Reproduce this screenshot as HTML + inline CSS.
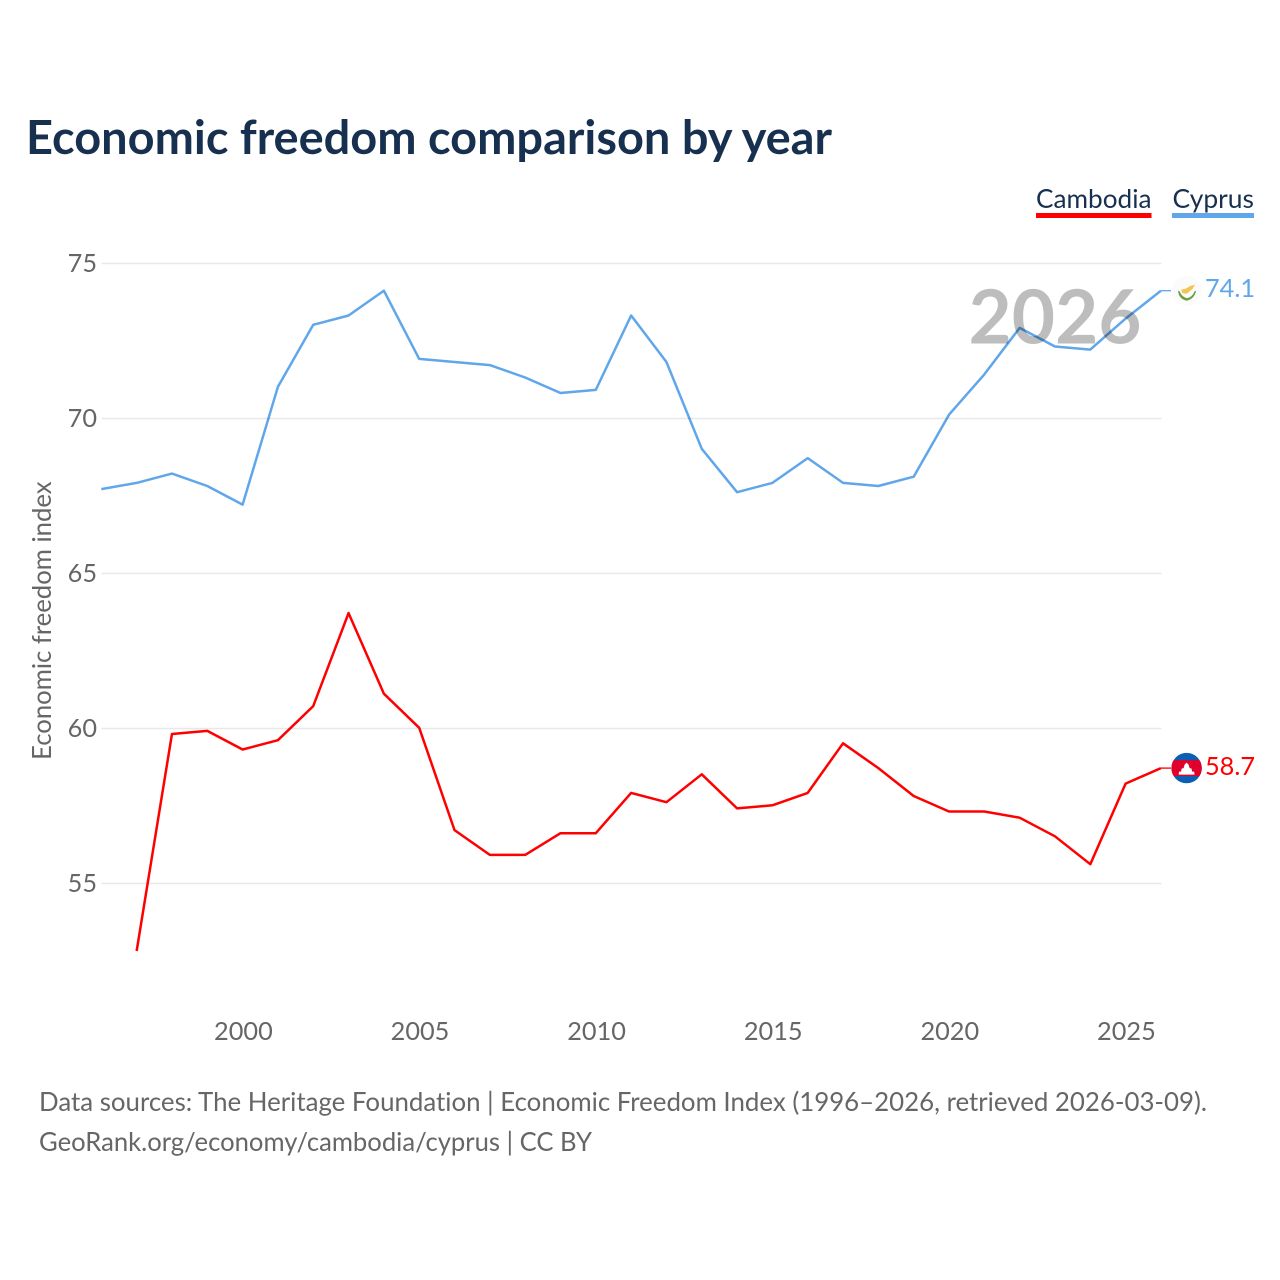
<!DOCTYPE html>
<html>
<head>
<meta charset="utf-8">
<title>Economic freedom comparison by year</title>
<style>
html,body{margin:0;padding:0;background:#fff;width:1280px;height:1280px;overflow:hidden}
svg{display:block}
text{font-family:"Lato","Carlito","Liberation Sans",sans-serif;font-variant-ligatures:none}
</style>
</head>
<body>
<svg id="chart" xmlns="http://www.w3.org/2000/svg" width="1280" height="1280" viewBox="0 0 1280 1280">
  <text x="26" y="154" font-size="46.8" font-weight="700" fill="#18304f" textLength="806" lengthAdjust="spacingAndGlyphs">Economic freedom comparison by year</text>

  <g>
    <text x="1036" y="208" font-size="26" fill="#18304f" textLength="115.5" lengthAdjust="spacingAndGlyphs">Cambodia</text>
    <rect x="1036" y="213" width="115.5" height="5" fill="#ff0000"/>
  </g>
  <g>
    <text x="1172.5" y="208" font-size="26" fill="#18304f" textLength="81.5" lengthAdjust="spacingAndGlyphs">Cyprus</text>
    <rect x="1172" y="213" width="82" height="5" fill="#60a6ea"/>
  </g>

  <g id="grid"></g>
  <g id="yticks"></g>
  <g id="xticks"></g>

  <text transform="translate(51,760) rotate(-90)" x="0" y="0" font-size="25.7" fill="#666666">Economic freedom index</text>

  <text x="968.5" y="343.5" font-size="74.6" font-weight="700" fill="#bdbdbd">2026</text>

  <g id="series"></g>

  <g>
    <path id="cy-connector" fill="none" stroke="#60a6ea" stroke-width="1.3"/>
    <g id="cy-flag">
      <circle cx="0" cy="0" r="15" fill="#fbfbfb"/>
      <path d="M-5.5 -1 L-1 -2 L4 -5 L8.5 -6 L6 -2 L2 1.5 L0 3 L-4 2.5 Z" fill="#f3c552"/>
      <path d="M-8.5 0 Q-8 8 0 10 Q8 8 9.5 0 L8 0.5 Q6 6 0.5 7.5 Q-5 6 -7 0.5 Z" fill="#6b9f3c"/>
    </g>
    <text id="cy-value" x="1205" y="297" font-size="25.3" fill="#60a6ea"></text>
  </g>
  <g>
    <path id="kh-connector" fill="none" stroke="#ff0000" stroke-width="1.3"/>
    <g id="kh-flag">
      <clipPath id="kh-clip"><circle cx="0" cy="0" r="15.2"/></clipPath>
      <g clip-path="url(#kh-clip)">
        <rect x="-16" y="-16" width="32" height="32" fill="#0a5fb4"/>
        <rect x="-16" y="-8" width="32" height="16" fill="#e0002b"/>
        <path d="M-8 6.5 L-7.5 3.5 L-5.5 3.5 L-5 0.5 L-3 0 L-2 -3.5 L0 -5.5 L2 -3.5 L3 0 L5 0.5 L5.5 3.5 L7.5 3.5 L8 6.5 Z" fill="#ffffff"/>
      </g>
    </g>
    <text id="kh-value" x="1205" y="775" font-size="25.3" fill="#ff0000"></text>
  </g>

  <text x="39" y="1111" font-size="25.9" fill="#666666" textLength="1168" lengthAdjust="spacingAndGlyphs">Data sources: The Heritage Foundation | Economic Freedom Index (1996–2026, retrieved 2026-03-09).</text>
  <text x="39" y="1151" font-size="25.9" fill="#666666" textLength="553" lengthAdjust="spacingAndGlyphs">GeoRank.org/economy/cambodia/cyprus | CC BY</text>
</svg>
<script>
const yTickValues = [55, 60, 65, 70, 75];
const xTickValues = [2000, 2005, 2010, 2015, 2020, 2025];
const cyprusYears = [1996,1997,1998,1999,2000,2001,2002,2003,2004,2005,2006,2007,2008,2009,2010,2011,2012,2013,2014,2015,2016,2017,2018,2019,2020,2021,2022,2023,2024,2025,2026];
const cyprusValues = [67.7,67.9,68.2,67.8,67.2,71.0,73.0,73.3,74.1,71.9,71.8,71.7,71.3,70.8,70.9,73.3,71.8,69.0,67.6,67.9,68.7,67.9,67.8,68.1,70.1,71.4,72.9,72.3,72.2,73.2,74.1];
const cambodiaYears = [1997,1998,1999,2000,2001,2002,2003,2004,2005,2006,2007,2008,2009,2010,2011,2012,2013,2014,2015,2016,2017,2018,2019,2020,2021,2022,2023,2024,2025,2026];
const cambodiaValues = [52.8,59.8,59.9,59.3,59.6,60.7,63.7,61.1,60.0,56.7,55.9,55.9,56.6,56.6,57.9,57.6,58.5,57.4,57.5,57.9,59.5,58.7,57.8,57.3,57.3,57.1,56.5,55.6,58.2,58.7];

const NS = 'http://www.w3.org/2000/svg';
const plotLeft = 101.7;
const plotRight = 1161.5;
function xScale(year) { return 242.6 + (year - 2000) * 35.32; }
function yScale(value) { return 882.8 - (value - 55) * 31; }
function make(tag, attrs, parent) {
  const el = document.createElementNS(NS, tag);
  for (const k in attrs) el.setAttribute(k, attrs[k]);
  parent.appendChild(el);
  return el;
}
const gridG = document.getElementById('grid');
const yG = document.getElementById('yticks');
const xG = document.getElementById('xticks');
const seriesG = document.getElementById('series');

yTickValues.forEach(function (v) {
  const gy = yScale(v) + 0.7;
  const line = make('line', { x1: plotLeft, x2: plotRight, y1: gy, y2: gy, stroke: '#e8e8e8', 'stroke-width': 1.5 }, gridG);
  
  
  const t = make('text', { x: 97, y: gy + 8.5, 'text-anchor': 'end', 'font-size': 25.3, fill: '#666666' }, yG);
  t.textContent = String(v);
  
  
});
xTickValues.forEach(function (v) {
  const t = make('text', { x: xScale(v) + 0.8, y: 1040, 'text-anchor': 'middle', 'font-size': 25.3, fill: '#666666' }, xG);
  t.textContent = String(v);
  
  
});
function pathFor(years, values) {
  return values.map(function (v, i) {
    return (i ? 'L' : 'M') + xScale(years[i]).toFixed(2) + ' ' + yScale(v).toFixed(2);
  }).join(' ');
}
const cambodiaLine = make('path', { d: pathFor(cambodiaYears, cambodiaValues), fill: 'none', stroke: '#ff0000', 'stroke-width': 2.5, 'stroke-linejoin': 'round' }, seriesG);


const cyprusLine = make('path', { d: pathFor(cyprusYears, cyprusValues), fill: 'none', stroke: '#60a6ea', 'stroke-width': 2.5, 'stroke-linejoin': 'round', 'style': 'mix-blend-mode:multiply' }, seriesG);



function endLabel(prefix, years, values, labelOffset) {
  const last = values[values.length - 1];
  const ex = xScale(years[years.length - 1]);
  const ey = yScale(last);
  document.getElementById(prefix + '-connector').setAttribute('d', 'M' + ex.toFixed(2) + ' ' + ey.toFixed(2) + ' L1171 ' + ey.toFixed(2));
  document.getElementById(prefix + '-flag').setAttribute('transform', 'translate(1186.6,' + ey.toFixed(2) + ')');
  const t = document.getElementById(prefix + '-value');
  t.textContent = last.toFixed(1);
  t.setAttribute('y', (ey + labelOffset).toFixed(2));
}
endLabel('cy', cyprusYears, cyprusValues, 6.5);
endLabel('kh', cambodiaYears, cambodiaValues, 7);
</script>
</body>
</html>
